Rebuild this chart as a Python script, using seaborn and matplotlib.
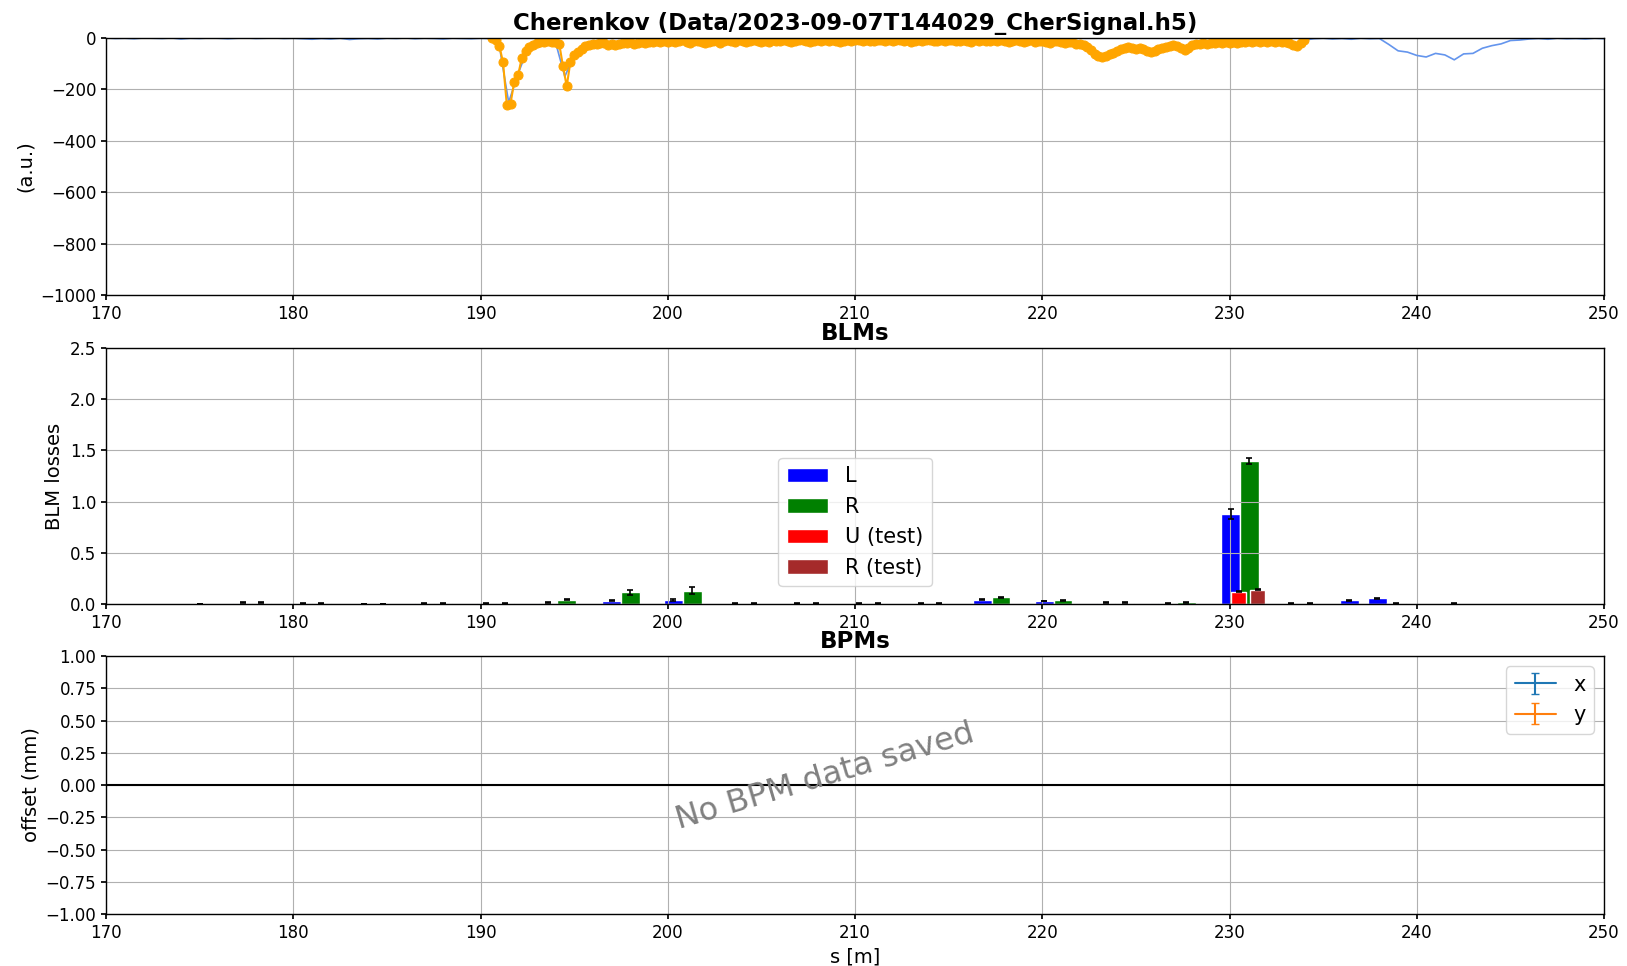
import numpy as np
import matplotlib
matplotlib.use("Agg")
import matplotlib.pyplot as plt
import seaborn as sns

# ---------------- Cherenkov signal ----------------
# full trace, sampled every 0.5 m from 170 m to 250 m
cher_start, cher_step = 170.0, 0.5
cher_signal = [
    0, -2, -1, -3, 0, -1, -2, 0, -4, -1, -2, 0, -1, -3, -1, 0, -2, -1, 0, -2,
    -1, -3, -5, -2, -4, -1, -6, -3, -2, -4, -1, -2, 0, -3, -1, -2, -4, -1, -2, -3,
    -1,
    -2, -30, -250, -140, -45, -20, -14, -16, -150, -66, -38, -22, -20, -22, -20,
    -17, -17, -14, -15, -14,
    -12, -15, -11, -13, -10, -14, -12, -9, -11, -13, -10, -12, -9, -11, -8, -10,
    -12, -9, -11, -8, -10, -9, -11, -8, -10, -9, -11, -8, -10, -9, -11, -10, -9,
    -12, -10, -11, -13, -12, -14, -15, -13, -16, -18, -22,
    -40, -70, -68, -55, -40, -36, -42, -54, -48, -38, -28, -40, -26, -22, -20,
    -19, -17, -15, -14, -13, -14, -15, -28, -8,
    -3, -1, -4, -2, -5, -1, -3, -2, -25, -50, -55, -68, -74, -60, -66, -85, -62,
    -60, -40, -30, -23, -10, -8, -4, -2, -5, -1, -3, -2, -4, -1, -3,
]

# selected window of the signal, sampled every 0.2 m from 190.6 m
sel_start, sel_step = 190.6, 0.2
sel_signal = [
    -2, -6, -30, -95, -260, -255, -170, -146, -78, -52,
    -36, -27, -20, -17, -14, -13, -14, -16, -22, -110,
    -188, -92, -66, -54, -44, -33, -26, -22, -24, -19,
    -21, -26, -22, -27, -24, -18, -21, -17, -22, -19,
    -15, -18, -14, -17, -13, -16, -12,
    -14, -10, -17, -12, -9, -15, -19, -13, -11, -16,
    -20, -14, -10, -13, -18, -12, -8, -11, -15, -9,
    -13, -17, -11, -7, -10, -14, -12, -16, -9, -11,
    -13, -8, -10, -15, -12, -9, -6, -11, -14, -10,
    -8, -12, -9, -13, -7, -10, -15, -11, -8, -12,
    -6, -9, -11, -8, -13, -10, -7, -9, -12, -8,
    -10, -6, -9, -11, -7, -14, -10, -8, -12, -9,
    -7, -10, -13, -8, -11, -9, -6, -10, -12, -8,
    -11, -15, -9, -12, -8, -10, -13, -7, -11, -9,
    -12, -14, -10, -8, -13, -16, -11, -9, -14, -12,
    -10, -15, -18, -13, -11, -16, -20, -14, -17, -22,
    -25,
    -28, -35, -48, -62, -72, -76, -70, -62, -58, -50,
    -42, -38, -35, -40, -44, -38, -42, -50, -56, -52,
    -44, -38, -36, -30, -27, -32, -40, -46, -38, -28,
    -22, -25, -19, -22, -18, -21, -17, -20, -16, -19,
    -15, -18, -14, -17, -13, -16, -12, -15, -11, -14,
    -12, -16, -13, -17, -15, -20, -26, -31, -18, -8,
]

# ---------------- BLM losses ----------------
nan = np.nan
blm_s = [175.0, 177.3, 180.5, 183.8, 187.0, 190.3, 193.6, 197.0, 200.3, 203.6,
         206.9, 210.2, 213.5, 216.8, 220.1, 223.4, 226.7, 230.05, 233.3, 236.4,
         237.9, 242.0]
blm_L = [0.002, 0.012, 0.004, 0.002, 0.006, 0.006, 0.012, 0.030, 0.040, 0.004,
         0.004, 0.004, 0.003, 0.042, 0.030, 0.015, 0.008, 0.88, 0.005, 0.035,
         0.055, 0.003]
blm_L_err = [0.003, 0.004, 0.003, 0.002, 0.003, 0.003, 0.004, 0.005, 0.006, 0.003,
             0.003, 0.003, 0.003, 0.005, 0.004, 0.003, 0.003, 0.045, 0.003, 0.004,
             0.004, 0.003]
blm_R = [nan, 0.014, 0.006, 0.002, 0.006, 0.006, 0.042, 0.115, 0.13, 0.004,
         0.004, 0.004, 0.003, 0.065, 0.035, 0.015, 0.018, 1.40, 0.005, nan,
         0.006, nan]
blm_R_err = [nan, 0.004, 0.003, 0.002, 0.003, 0.003, 0.005, 0.025, 0.035, 0.003,
             0.003, 0.003, 0.003, 0.004, 0.004, 0.003, 0.003, 0.030, 0.003, nan,
             0.003, nan]
test_U_s, test_U, test_U_err = [230.5], [0.12], [0.005]
test_R_s, test_R, test_R_err = [231.5], [0.14], [0.005]

# ---------------- axis settings ----------------
s_ticks = [170, 180, 190, 200, 210, 220, 230, 240, 250]
cher_ticks = [-1000, -800, -600, -400, -200, 0]
blm_ticks = [0.0, 0.5, 1.0, 1.5, 2.0, 2.5]
bpm_ticks = [-1.0, -0.75, -0.5, -0.25, 0.0, 0.25, 0.5, 0.75, 1.0]

sns.set_theme(style="whitegrid", rc={
    "axes.edgecolor": "black",
    "axes.linewidth": 1.0,
    "axes.axisbelow": "line",
    "grid.color": "#b0b0b0",
    "grid.linewidth": 0.8,
    "xtick.bottom": True,
    "ytick.left": True,
    "xtick.color": "black",
    "ytick.color": "black",
    "text.color": "black",
    "axes.labelcolor": "black",
    "xtick.major.size": 3.5,
    "ytick.major.size": 3.5,
})
plt.rcParams["font.family"] = ["DejaVu Sans"]

fig = plt.figure(figsize=(16.27, 9.66), dpi=100)
left, width = 0.0652, 0.9207
ax0 = fig.add_axes([left, 0.6946, width, 0.2661])
ax1 = fig.add_axes([left, 0.3747, width, 0.2651])
ax2 = fig.add_axes([left, 0.0538, width, 0.2671])

tick_fs = 12
label_fs = 14
title_fs = 16.5

# --- Cherenkov panel ---
cher_x = np.round(cher_start + cher_step * np.arange(len(cher_signal)), 2)
sel_x = np.round(sel_start + sel_step * np.arange(len(sel_signal)), 2)
sns.lineplot(x=cher_x, y=cher_signal, ax=ax0, color="cornflowerblue", lw=1.2)
sns.lineplot(x=sel_x, y=sel_signal, ax=ax0, color="orange", lw=1.5,
             marker="o", markersize=6.5, markeredgecolor="orange")
ax0.set_xlim(170, 250)
ax0.set_ylim(-1000, 0)
ax0.set_xticks(s_ticks)
ax0.set_yticks(cher_ticks)
ax0.set_ylabel("(a.u.)", fontsize=label_fs)
ax0.set_title("Cherenkov (Data/2023-09-07T144029_CherSignal.h5)",
              fontsize=title_fs, fontweight="bold")

# --- BLM panel ---
err_kw = dict(ecolor="black", elinewidth=1.2, capthick=1.2)
ax1.bar(blm_s, blm_L, width=1.0, color="blue", yerr=blm_L_err, capsize=2.5,
        error_kw=err_kw, label="L")
ax1.bar(np.array(blm_s) + 1.0, blm_R, width=1.0, color="green", yerr=blm_R_err,
        capsize=2.5, error_kw=err_kw, label="R")
ax1.bar(test_U_s, test_U, width=0.8, color="red", yerr=test_U_err, capsize=2.5,
        error_kw=err_kw, label="U (test)")
ax1.bar(test_R_s, test_R, width=0.8, color="brown", yerr=test_R_err, capsize=2.5,
        error_kw=err_kw, label="R (test)")
ax1.set_xlim(170, 250)
ax1.set_ylim(0, 2.5)
ax1.set_xticks(s_ticks)
ax1.set_yticks(blm_ticks)
ax1.set_ylabel("BLM losses", fontsize=label_fs)
ax1.set_title("BLMs", fontsize=title_fs, fontweight="bold")
ax1.legend(loc="center", bbox_to_anchor=(0.5, 0.32), fontsize=15,
           frameon=True, framealpha=0.8, edgecolor="0.8", fancybox=True)

# --- BPM panel ---
ax2.errorbar([nan], [nan], yerr=[nan], color="tab:blue", capsize=3, label="x")
ax2.errorbar([nan], [nan], yerr=[nan], color="tab:orange", capsize=3, label="y")
ax2.axhline(0, color="black", lw=1.5)
ax2.text(0.48, 0.53, "No BPM data saved", transform=ax2.transAxes,
         ha="center", va="center", rotation=16.5, fontsize=23, color="gray")
ax2.set_xlim(170, 250)
ax2.set_ylim(-1, 1)
ax2.set_xticks(s_ticks)
ax2.set_yticks(bpm_ticks)
ax2.set_yticklabels([f"{t:.2f}".replace("-", "\u2212") for t in bpm_ticks])
ax2.set_ylabel("offset (mm)", fontsize=label_fs)
ax2.set_xlabel("s [m]", fontsize=label_fs)
ax2.set_title("BPMs", fontsize=title_fs, fontweight="bold")
ax2.legend(loc="upper right", fontsize=15, frameon=True, framealpha=0.8,
           edgecolor="0.8", fancybox=True)

for ax in (ax0, ax1, ax2):
    ax.tick_params(labelsize=tick_fs)
    for sp in ax.spines.values():
        sp.set_visible(True)
        sp.set_color("black")

fig.savefig("out.png", dpi=100)
